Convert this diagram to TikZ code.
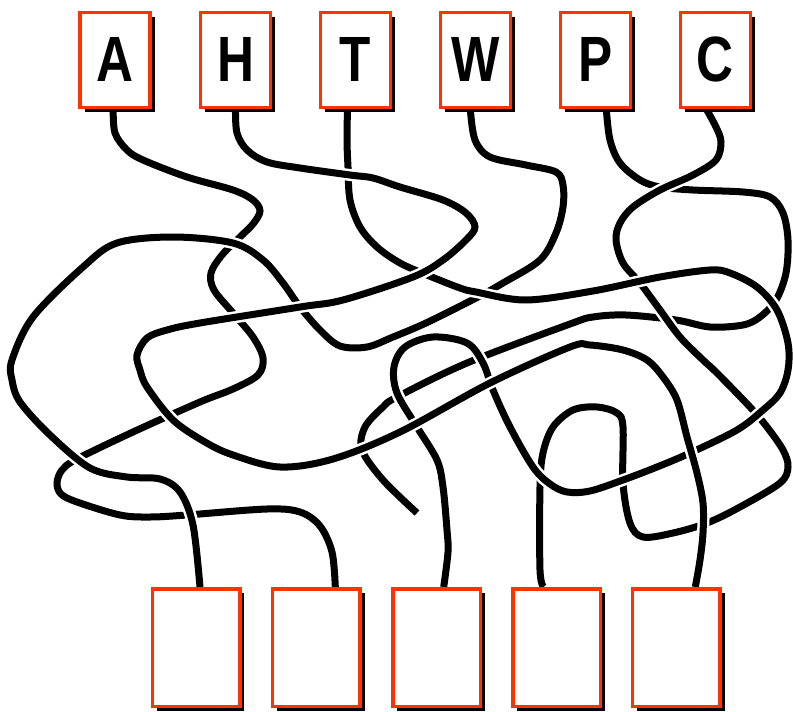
\documentclass[tikz,border=0pt]{standalone}
\usepackage{fontspec}
\usepackage{tikz}
\usetikzlibrary{shadows,backgrounds}
\newfontfamily\tagfont[FakeStretch=0.80]{Liberation Sans}
\definecolor{boxred}{HTML}{FF3300}
\definecolor{cordblack}{HTML}{000000}

\begin{document}
\begin{tikzpicture}[x=1pt, y=-1pt,
    box/.style={draw=boxred, line width=3.5pt, fill=white, inner sep=0pt,
      general shadow={fill=black, shadow xshift=4.5pt, shadow yshift=-4.5pt}},
    topbox/.style={box, minimum width=70pt, minimum height=95pt,
      font=\tagfont\bfseries\fontsize{64}{64}\selectfont},
    botbox/.style={box, minimum width=87.5pt, minimum height=117.5pt},
    cord/.style={cordblack, line width=7pt,
      preaction={draw=white, line width=12pt}}]
    \useasboundingbox (0,0) rectangle (793,712);
    %% --- top boxes ---
    \foreach \n/\x in {A/115.2, H/235.5, T/355.5, W/475.3, P/595.3, C/715.3} {
      \node[topbox] (\n) at (\x,59.8) {\n};
    }
    %% --- bottom boxes ---
    \foreach \i/\x in {1/196, 2/316.3, 3/436.7, 4/556.7, 5/676.3} {
      \node[botbox] (b\i) at (\x,647.5) {};
    }
    \coordinate (pend) at (417,513);
    %% --- cords, drawn from lowest to highest ---
    \begin{scope}[on background layer]
      %% A
      \draw[cord] plot[smooth, tension=0.55] coordinates {([xshift=-2pt]A.south)
        (115,133) (127,150) (143,160) (187,177) (233,190) (253,200) (260,211)
        (253,224) (240,237) (222,255) (211,273) (214,290) (233,313) (253,337)
        (263,358) (258,375) (233,389) (200,402) (133,432) (77,459) (62,470)
        (57,483) (61,494) (77,502) (120,515) (150,517) (187,515) (267,509)
        (300,512) (320,526) (332,552) ([xshift=19pt]b2.north)};
      %% W
      \draw[cord] plot[smooth, tension=0.55] coordinates {([xshift=-5pt]W.south)
        (475,140) (490,157) (526,165) (556,172) (563,185) (563,207) (556,233)
        (540,260) (503,283) (476,298) (426,323) (393,337) (367,347) (340,346)
        (320,330) (300,307) (283,283) (263,260) (233,243) (173,237) (117,243)
        (83,267) (33,317) (12,360) (12,380) (20,402) (50,435) (90,468)
        (127,477) (160,479) (180,492) (193,525) ([xshift=4pt]b1.north)};
      %% P
      \draw[cord] plot[smooth, tension=0.55] coordinates {([xshift=11pt]P.south)
        (610,140) (620,163) (640,180) (660,187) (693,190) (743,192) (770,197)
        (783,213) (788,240) (786,273) (776,300) (760,317) (743,325) (710,327)
        (676,320) (626,315) (593,317) (570,324) (467,363) (397,397) (383,407)
        (365,427) (362,450) (383,480) (pend)};
      %% C
      \draw[cord] plot[smooth, tension=0.55] coordinates {([xshift=-9pt]C.south)
        (716,127) (721,142) (716,160) (693,175) (660,190) (633,207) (620,223)
        (616,240) (623,263) (640,283) (660,310) (680,337) (703,360) (717,373)
        (750,407) (767,427) (783,450) (788,467) (780,483) (740,507) (707,523)
        (673,533) (643,537) (630,523) (623,483) (623,427) (617,413) (597,407)
        (573,410) (553,427) (543,453) (540,487) (540,570)
        ([xshift=-13pt]b4.north)};
      %% T
      \draw[cord] plot[smooth, tension=0.55] coordinates {([xshift=-8pt]T.south)
        (347,140) (348,167) (350,200) (360,227) (377,247) (400,263) (427,275)
        (460,288) (476,292) (526,300) (593,291) (660,277) (710,270) (730,273)
        (757,287) (777,310) (788,343) (788,370) (780,393) (763,410) (737,430)
        (690,453) (657,467) (623,480) (590,491) (567,492) (550,484) (533,467)
        (510,427) (493,390) (483,363) (467,343) (433,337) (405,347) (394,367)
        (397,393) (417,427) (437,460) (443,487) (447,530) (448,552)
        ([xshift=7pt]b3.north)};
      %% H
      \draw[cord] plot[smooth, tension=0.55] coordinates {(H.south)
        (237,133) (247,150) (267,162) (300,168) (350,175) (373,178) (400,187)
        (443,200) (466,213) (475,227) (466,240) (443,260) (413,277) (343,300)
        (300,307) (200,323) (167,330) (147,338) (137,355) (140,370) (147,387)
        (173,420) (205,442) (233,455) (280,467) (333,459) (400,432) (490,383)
        (570,347) (590,345) (623,350) (647,360) (663,377) (677,400) (687,437)
        (697,473) (703,503) (703,533) (700,560) ([xshift=19pt]b5.north)};
    \end{scope}
\end{tikzpicture}
\end{document}
